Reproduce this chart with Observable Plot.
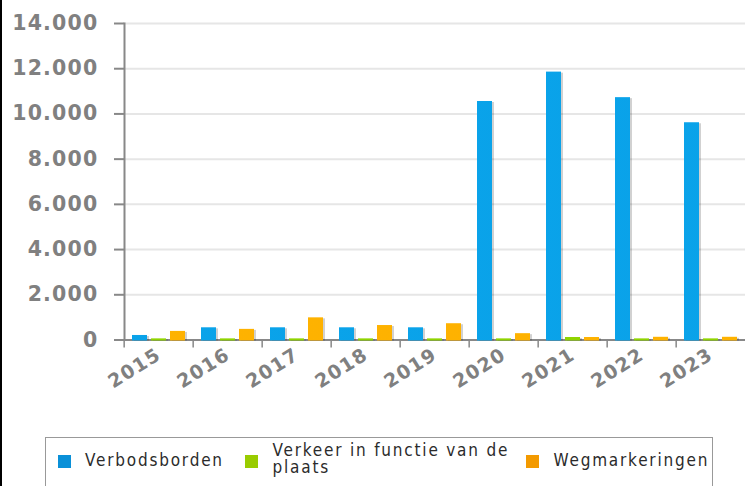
<!DOCTYPE html>
<html>
<head>
<meta charset="utf-8">
<script src="https://cdn.jsdelivr.net/npm/d3@7"></script>
<script src="https://cdn.jsdelivr.net/npm/@observablehq/plot@0.6"></script>
<style>
  html, body { margin: 0; padding: 0; background: #fff; }
  body { width: 749px; height: 486px; position: relative; overflow: hidden; }
  #edge { position: absolute; left: 0; top: 0; width: 2px; height: 486px; background: #000; }
  #chart { position: absolute; left: 0; top: 0; }
  #chart svg text { letter-spacing: 1.2px; }
  #legend { position: absolute; left: 45px; top: 437px; width: 668px; height: 70px;
    border: 1.5px solid #999; box-sizing: border-box;
    font-family: "DejaVu Sans Condensed", "DejaVu Sans", sans-serif; font-size: 17px;
    color: #2b2b2b; letter-spacing: 1.8px; }
  .sw { position: absolute; width: 13px; height: 13px; top: 17px; }
  .lb { position: absolute; line-height: 17px; }
</style>
</head>
<body>
<div id="edge"></div>
<svg width="0" height="0" style="position:absolute">
  <defs>
    <linearGradient id="gBlue" gradientUnits="userSpaceOnUse" x1="121" y1="0" x2="748" y2="0">
      <stop offset="0" stop-color="#0aa3ea"/>
      <stop offset="1" stop-color="#008fd0"/>
    </linearGradient>
    <linearGradient id="gGreen" gradientUnits="userSpaceOnUse" x1="121" y1="0" x2="748" y2="0">
      <stop offset="0" stop-color="#8fd400"/>
      <stop offset="1" stop-color="#99cc00"/>
    </linearGradient>
    <linearGradient id="gOrange" gradientUnits="userSpaceOnUse" x1="121" y1="0" x2="748" y2="0">
      <stop offset="0" stop-color="#ffb400"/>
      <stop offset="1" stop-color="#f59c00"/>
    </linearGradient>
  </defs>
</svg>
<div id="chart"></div>
<div id="legend"></div>
<script>
// ---- data ----
const years = ["2015", "2016", "2017", "2018", "2019", "2020", "2021", "2022", "2023"];
const seriesNames = ["Verbodsborden", "Verkeer in functie van de plaats", "Wegmarkeringen"];
const verbodsborden = [200, 540, 540, 540, 540, 10550, 11850, 10720, 9610];
const verkeerInFunctie = [50, 50, 50, 50, 50, 50, 110, 50, 50];
const wegmarkeringen = [380, 470, 980, 640, 720, 280, 110, 120, 120];
const yTicks = [0, 2000, 4000, 6000, 8000, 10000, 12000, 14000];
const legendColors = ["#0a90d8", "#99cc00", "#f39a00"];
const barFills = ["url(#gBlue)", "url(#gGreen)", "url(#gOrange)"];

const seriesValues = [verbodsborden, verkeerInFunctie, wegmarkeringen];
const data = [];
years.forEach((yr, i) => {
  seriesNames.forEach((s, j) => data.push({year: yr, series: s, value: seriesValues[j][i]}));
});

const fmt = d => d3.format(",")(d).replace(/,/g, ".");

const W = 749, mL = 121, mR = 1;
const step = (W - mL - mR) / years.length;

const gray = "#888";
const labelStyle = {fill: "#808080", fontWeight: "bold", fontSize: 20.5};

const chart = Plot.plot({
  width: W,
  height: 430,
  marginLeft: mL,
  marginRight: mR,
  marginTop: 23,
  marginBottom: 90.5,
  style: {fontFamily: "DejaVu Sans, sans-serif", background: "transparent"},
  fx: {domain: years, padding: 0, label: null},
  x: {domain: seriesNames, axis: null, paddingInner: 0.2, paddingOuter: 0.39},
  y: {domain: [0, 14000], label: null},
  color: {domain: seriesNames, range: barFills},
  marks: [
    Plot.gridY(yTicks, {stroke: "#e6e6e6", strokeOpacity: 1, strokeWidth: 2}),
    Plot.ruleY([0], {stroke: gray, strokeWidth: 2}),
    Plot.barY(data, {fx: "year", x: "series", y: "value", fill: "#000", fillOpacity: 0.18, dx: 2, dy: 1}),
    Plot.barY(data, {fx: "year", x: "series", y: "value", fill: "series", insetBottom: -1}),
    Plot.frame({anchor: "left", facetAnchor: "left", stroke: gray, strokeWidth: 2}),
    Plot.axisY(yTicks, {tickSize: 10, tickPadding: 16, stroke: gray, strokeWidth: 2, tickFormat: fmt, label: null, ...labelStyle}),
    Plot.axisFx({anchor: "bottom", tickSize: 8, tickFormat: () => "", dx: -step / 2, stroke: gray, strokeWidth: 1.5, label: null}),
    Plot.axisFx({anchor: "bottom", tickSize: 0, tickPadding: 12, tickRotate: -32, dx: 0, dy: 1, label: null, ...labelStyle, fontSize: 19})
  ]
});
document.getElementById("chart").appendChild(chart);

// ---- legend ----
const legend = document.getElementById("legend");
const swLeft = [12, 199, 480];
const lbLeft = [39, 226.5, 507.5];
const lbTop = [14, 4, 14];
seriesNames.forEach((s, j) => {
  const sw = document.createElement("div");
  sw.className = "sw";
  sw.style.left = swLeft[j] + "px";
  sw.style.background = legendColors[j];
  legend.appendChild(sw);
  const lb = document.createElement("div");
  lb.className = "lb";
  lb.style.left = lbLeft[j] + "px";
  lb.style.top = lbTop[j] + "px";
  if (j === 1) lb.style.width = "262px";
  lb.textContent = s;
  legend.appendChild(lb);
});
</script>
</body>
</html>
